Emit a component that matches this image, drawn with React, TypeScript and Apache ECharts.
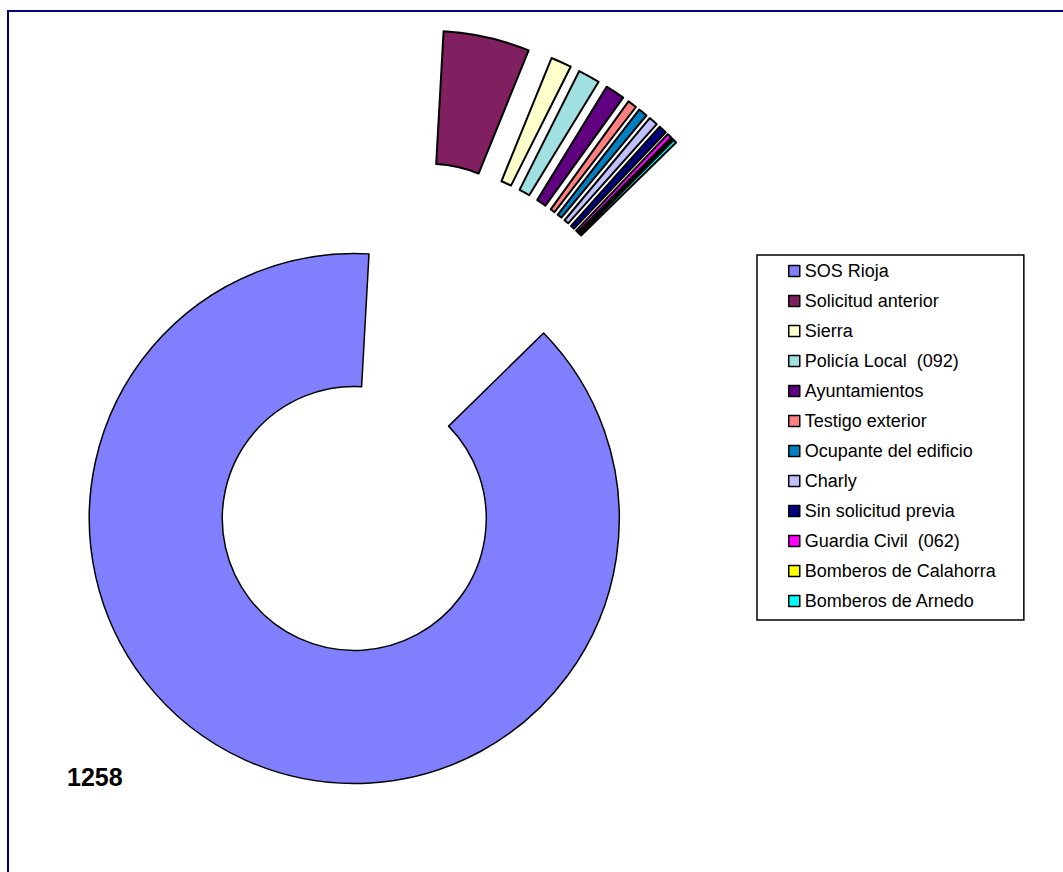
import React, { useEffect, useRef } from "react";
import * as echarts from "echarts";

const categories = [
  "SOS Rioja",
  "Solicitud anterior",
  "Sierra",
  "Policía Local  (092)",
  "Ayuntamientos",
  "Testigo exterior",
  "Ocupante del edificio",
  "Charly",
  "Sin solicitud previa",
  "Guardia Civil  (062)",
  "Bomberos de Calahorra",
  "Bomberos de Arnedo",
];
const values = [1258, 75, 18, 19, 17, 8, 8, 8, 7, 4, 1, 3];
const colors = [
  "#8080FF",
  "#802060",
  "#FFFFCC",
  "#A0E0E0",
  "#600080",
  "#FF8080",
  "#0080C0",
  "#C0C0FF",
  "#000080",
  "#FF00FF",
  "#FFFF00",
  "#00FFFF",
];

const FONT = '"Liberation Sans", Arial, sans-serif';

export default function App() {
  const ref = useRef<HTMLDivElement>(null);
  useEffect(() => {
    document.body.style.margin = "0";
    document.body.style.overflow = "hidden";
    const chart = echarts.init(ref.current!, null, { renderer: "svg" });
    const data = categories.map((name, i) => ({
      name,
      value: values[i],
      selected: true,
      itemStyle: {
        color: colors[i],
        borderColor: "#000",
        borderWidth: i === 0 ? 1.5 : 2,
      },
      select: {
        itemStyle: {
          borderColor: "#000",
          borderWidth: i === 0 ? 1.5 : 2,
        },
      },
    }));
    chart.setOption({
      animation: false,
      backgroundColor: "#fff",
      color: colors,
      legend: {
        orient: "vertical",
        left: 757,
        top: 255,
        padding: [7, 28, 10, 31],
        itemWidth: 11,
        itemHeight: 11,
        itemGap: 12,
        icon: "rect",
        borderColor: "#000",
        borderWidth: 1.5,
        backgroundColor: "#fff",
        selectedMode: false,
        itemStyle: { borderColor: "#000", borderWidth: 1.5 },
        textStyle: {
          fontFamily: FONT,
          fontSize: 18,
          lineHeight: 18,
          color: "#000",
        },
        data: categories,
      },
      graphic: [
        {
          type: "rect",
          silent: true,
          shape: { x: 8, y: 11, width: 2000, height: 2000 },
          style: { fill: "none", stroke: "#000080", lineWidth: 2 },
        },
        {
          type: "text",
          x: 67,
          y: 777,
          style: {
            text: String(values[0]),
            fontFamily: FONT,
            fontSize: 25,
            fontWeight: "bold",
            fill: "#000",
            textAlign: "left",
            textVerticalAlign: "middle",
          },
        },
      ],
      series: [
        {
          type: "pie",
          center: [403, 411],
          radius: [132, 265],
          startAngle: 44.4,
          clockwise: true,
          selectedMode: "multiple",
          selectedOffset: 118,
          avoidLabelOverlap: false,
          label: { show: false },
          labelLine: { show: false },
          emphasis: { disabled: true, scale: false },
          data,
        },
      ],
    });
    return () => chart.dispose();
  }, []);
  return <div ref={ref} style={{ width: 1063, height: 872 }} />;
}
